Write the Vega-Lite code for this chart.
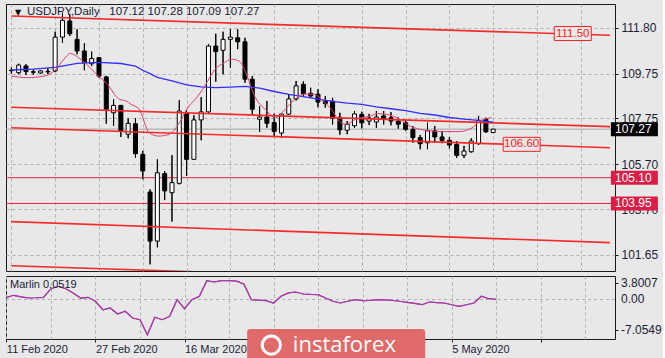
{
  "$schema": "https://vega.github.io/schema/vega-lite/v6.json",
  "background": "#e8e8e8",
  "padding": {"left": 3, "top": 3, "right": 0, "bottom": 0},
  "spacing": 3,
  "config": {
    "view": {"stroke": "#1a1a1a", "strokeWidth": 1, "fill": "#e8e8e8"},
    "axis": {"domain": false, "labelFont": "Liberation Sans", "labelColor": "#1c1c38", "tickColor": "#1a1a1a", "gridColor": "#b0b0b0", "gridDash": [3, 3], "gridWidth": 1}
  },
  "datasets": {
    "candles": [
      {"i":0,"o":109.88,"h":110.03,"l":109.74,"c":109.90},
      {"i":1,"o":109.79,"h":110.19,"l":109.72,"c":110.13},
      {"i":2,"o":110.09,"h":110.17,"l":109.69,"c":109.84},
      {"i":3,"o":109.83,"h":109.94,"l":109.70,"c":109.81},
      {"i":4,"o":109.78,"h":109.91,"l":109.73,"c":109.87},
      {"i":5,"o":109.83,"h":109.98,"l":109.72,"c":109.85},
      {"i":6,"o":109.87,"h":111.62,"l":109.82,"c":111.38},
      {"i":7,"o":111.38,"h":112.47,"l":111.13,"c":112.13},
      {"i":8,"o":112.10,"h":112.41,"l":111.43,"c":111.53},
      {"i":9,"o":111.28,"h":111.73,"l":110.61,"c":110.76},
      {"i":10,"o":110.76,"h":111.10,"l":109.90,"c":110.24},
      {"i":11,"o":110.19,"h":110.73,"l":110.09,"c":110.42},
      {"i":12,"o":110.46,"h":110.49,"l":109.56,"c":109.64},
      {"i":13,"o":109.60,"h":109.65,"l":107.51,"c":108.16},
      {"i":14,"o":108.00,"h":108.60,"l":107.41,"c":108.33},
      {"i":15,"o":108.33,"h":108.35,"l":106.92,"c":107.19},
      {"i":16,"o":107.04,"h":107.75,"l":106.86,"c":107.53},
      {"i":17,"o":107.51,"h":107.75,"l":105.99,"c":106.17},
      {"i":18,"o":106.14,"h":106.30,"l":105.03,"c":105.40},
      {"i":19,"o":104.46,"h":104.58,"l":101.23,"c":102.27},
      {"i":20,"o":102.27,"h":105.92,"l":101.99,"c":105.32},
      {"i":21,"o":105.28,"h":105.40,"l":104.10,"c":104.51},
      {"i":22,"o":104.43,"h":106.11,"l":103.14,"c":104.88},
      {"i":23,"o":104.85,"h":108.56,"l":104.80,"c":108.08},
      {"i":24,"o":107.98,"h":108.10,"l":105.18,"c":105.92},
      {"i":25,"o":105.92,"h":107.89,"l":105.90,"c":107.68},
      {"i":26,"o":107.68,"h":108.70,"l":106.77,"c":108.04},
      {"i":27,"o":108.04,"h":111.06,"l":108.00,"c":110.98},
      {"i":28,"o":110.98,"h":111.53,"l":109.39,"c":110.73},
      {"i":29,"o":110.79,"h":111.62,"l":109.72,"c":111.28},
      {"i":30,"o":111.28,"h":111.73,"l":110.01,"c":111.38},
      {"i":31,"o":111.35,"h":111.73,"l":110.84,"c":111.17},
      {"i":32,"o":111.17,"h":111.35,"l":109.34,"c":109.50},
      {"i":33,"o":109.50,"h":109.64,"l":107.93,"c":108.16},
      {"i":34,"o":107.71,"h":108.30,"l":107.14,"c":107.81},
      {"i":35,"o":107.81,"h":108.53,"l":107.33,"c":107.53},
      {"i":36,"o":107.56,"h":107.96,"l":106.96,"c":107.17},
      {"i":37,"o":107.10,"h":107.96,"l":106.87,"c":107.94},
      {"i":38,"o":107.94,"h":108.83,"l":107.90,"c":108.62},
      {"i":39,"o":108.62,"h":109.42,"l":108.55,"c":109.20},
      {"i":40,"o":109.27,"h":109.40,"l":108.75,"c":108.86},
      {"i":41,"o":108.87,"h":109.12,"l":108.68,"c":108.75},
      {"i":42,"o":108.83,"h":109.05,"l":108.25,"c":108.48},
      {"i":43,"o":108.52,"h":108.75,"l":108.23,"c":108.41},
      {"i":44,"o":108.52,"h":108.67,"l":107.48,"c":107.75},
      {"i":45,"o":107.80,"h":108.00,"l":107.02,"c":107.24},
      {"i":46,"o":107.22,"h":107.63,"l":107.04,"c":107.49},
      {"i":47,"o":107.42,"h":108.08,"l":107.33,"c":107.95},
      {"i":48,"o":107.93,"h":108.05,"l":107.30,"c":107.55},
      {"i":49,"o":107.63,"h":107.95,"l":107.45,"c":107.77},
      {"i":50,"o":107.59,"h":108.08,"l":107.33,"c":107.81},
      {"i":51,"o":107.86,"h":108.08,"l":107.48,"c":107.71},
      {"i":52,"o":107.78,"h":108.03,"l":107.44,"c":107.63},
      {"i":53,"o":107.63,"h":107.79,"l":107.29,"c":107.49},
      {"i":54,"o":107.56,"h":107.66,"l":107.19,"c":107.26},
      {"i":55,"o":107.26,"h":107.41,"l":106.66,"c":106.89},
      {"i":56,"o":106.89,"h":107.01,"l":106.37,"c":106.62},
      {"i":57,"o":106.66,"h":107.56,"l":106.37,"c":107.19},
      {"i":58,"o":107.19,"h":107.41,"l":106.67,"c":106.92},
      {"i":59,"o":106.92,"h":107.19,"l":106.64,"c":106.77},
      {"i":60,"o":106.77,"h":106.92,"l":106.41,"c":106.56},
      {"i":61,"o":106.59,"h":106.74,"l":105.99,"c":106.10},
      {"i":62,"o":106.10,"h":106.52,"l":105.98,"c":106.29},
      {"i":63,"o":106.26,"h":106.86,"l":106.22,"c":106.74},
      {"i":64,"o":106.62,"h":107.86,"l":106.56,"c":107.66},
      {"i":65,"o":107.71,"h":107.78,"l":107.11,"c":107.15},
      {"i":66,"o":107.12,"h":107.28,"l":107.09,"c":107.27}
    ],
    "slow": [
      {"i":0,"p":109.91},{"i":3,"p":109.95},{"i":6,"p":110.03},{"i":9,"p":110.21},{"i":12,"p":110.25},
      {"i":15,"p":110.20},{"i":17,"p":110.08},{"i":18,"p":109.90},{"i":19,"p":109.75},{"i":20,"p":109.58},
      {"i":22,"p":109.42},{"i":24,"p":109.25},{"i":26,"p":109.16},{"i":28,"p":109.12},{"i":30,"p":109.15},
      {"i":32,"p":109.18},{"i":34,"p":109.10},{"i":36,"p":108.95},{"i":38,"p":108.82},{"i":40,"p":108.72},
      {"i":42,"p":108.61},{"i":44,"p":108.51},{"i":46,"p":108.43},{"i":48,"p":108.38},{"i":50,"p":108.26},
      {"i":52,"p":108.18},{"i":54,"p":108.10},{"i":56,"p":107.97},{"i":58,"p":107.90},{"i":60,"p":107.79},
      {"i":62,"p":107.72},{"i":64,"p":107.66},{"i":66,"p":107.58}
    ],
    "fast": [
      {"i":0,"p":109.64},{"i":2.2,"p":109.57},{"i":4.5,"p":109.64},{"i":6.1,"p":109.94},{"i":7.2,"p":110.39},
      {"i":8.1,"p":110.65},{"i":9.2,"p":110.46},{"i":10.3,"p":110.17},{"i":11.9,"p":109.64},{"i":13.0,"p":109.33},
      {"i":14.8,"p":108.60},{"i":15.7,"p":108.53},{"i":16.4,"p":108.38},{"i":17.5,"p":108.16},{"i":18.9,"p":107.10},
      {"i":20.2,"p":106.96},{"i":21.6,"p":107.04},{"i":22.9,"p":107.49},{"i":24.3,"p":108.30},{"i":25.2,"p":108.60},
      {"i":26.5,"p":109.20},{"i":27.9,"p":109.94},{"i":29.2,"p":110.24},{"i":30.1,"p":110.39},{"i":31.2,"p":110.31},
      {"i":32.3,"p":109.64},{"i":33.2,"p":108.83},{"i":35.0,"p":108.08},{"i":36.2,"p":107.78},{"i":37.3,"p":108.08},
      {"i":38.6,"p":108.53},{"i":40.0,"p":108.83},{"i":41.3,"p":108.83},{"i":42.7,"p":108.53},{"i":44.0,"p":108.08},
      {"i":44.9,"p":107.63},{"i":45.8,"p":107.49},{"i":47.2,"p":107.71},{"i":49.2,"p":107.86},{"i":50.1,"p":107.96},
      {"i":51.4,"p":107.93},{"i":53.2,"p":107.71},{"i":54.6,"p":107.41},{"i":56.8,"p":107.22},{"i":59.1,"p":107.16},
      {"i":61.3,"p":107.16},{"i":63.1,"p":107.33},{"i":64.2,"p":107.63},{"i":65.8,"p":107.78}
    ],
    "trend": [
      {"id":"A","i":0,"p":112.32},{"id":"A","i":82,"p":111.46},
      {"id":"B","i":0,"p":108.25},{"id":"B","i":82,"p":107.38},
      {"id":"C","i":0,"p":107.33},{"id":"C","i":82,"p":106.44},
      {"id":"D","i":0,"p":103.14},{"id":"D","i":82,"p":102.20},
      {"id":"E","i":0,"p":101.17},{"id":"E","i":82,"p":100.28}
    ],
    "levels": [{"p":105.10},{"p":103.95}],
    "bid": [{"p":107.27}],
    "tlabels": [{"i":76.9,"p":111.54,"t":"111.50"},{"i":69.9,"p":106.59,"t":"106.60"}],
    "badges": [{"p":107.27,"t":"107.27","k":"bid"},{"p":105.10,"t":"105.10","k":"level"},{"p":103.95,"t":"103.95","k":"level"}],
    "mlabels": [{"v":3.8007,"t":"3.8007"},{"v":0,"t":"0.00"},{"v":-7.0549,"t":"-7.0549"}],
    "marlin": [
      {"i":0,"v":0.50},{"i":1,"v":0.96},{"i":2,"v":0.60},{"i":3,"v":0.34},{"i":4,"v":0.40},{"i":5,"v":0.50},
      {"i":6,"v":2.46},{"i":7,"v":3.01},{"i":8,"v":2.46},{"i":9,"v":1.48},{"i":10,"v":0.34},{"i":11,"v":0.50},
      {"i":12,"v":-0.41},{"i":13,"v":-2.33},{"i":14,"v":-1.94},{"i":15,"v":-3.31},{"i":16,"v":-2.69},{"i":17,"v":-4.22},
      {"i":18,"v":-4.61},{"i":19,"v":-8.03},{"i":20,"v":-4.06},{"i":21,"v":-4.61},{"i":22,"v":-3.83},{"i":23,"v":-0.05},
      {"i":24,"v":-2.10},{"i":25,"v":-0.05},{"i":26,"v":0.73},{"i":27,"v":4.29},{"i":28,"v":3.99},{"i":29,"v":4.29},
      {"i":30,"v":4.29},{"i":31,"v":4.20},{"i":32,"v":3.53},{"i":33,"v":-0.05},{"i":34,"v":-0.15},{"i":35,"v":-0.27},
      {"i":36,"v":-0.80},{"i":37,"v":0.73},{"i":38,"v":1.50},{"i":39,"v":1.71},{"i":40,"v":1.25},{"i":41,"v":1.15},
      {"i":42,"v":1.09},{"i":43,"v":0.34},{"i":44,"v":-0.41},{"i":45,"v":-0.80},{"i":46,"v":-0.40},{"i":47,"v":-0.05},
      {"i":48,"v":-0.27},{"i":49,"v":-0.20},{"i":50,"v":-0.05},{"i":51,"v":-0.10},{"i":52,"v":-0.18},{"i":53,"v":-0.40},
      {"i":54,"v":-0.64},{"i":55,"v":-0.90},{"i":56,"v":-1.19},{"i":57,"v":-0.57},{"i":58,"v":-0.70},{"i":59,"v":-0.80},
      {"i":60,"v":-1.20},{"i":61,"v":-1.55},{"i":62,"v":-1.20},{"i":63,"v":-0.80},{"i":64,"v":0.73},{"i":65,"v":0.18},
      {"i":66,"v":0.05}
    ]
  },
  "vconcat": [
    {
      "width": 609,
      "height": 267,
      "layer": [
        {
          "data": {"name": "candles"},
          "mark": {"type": "rule", "color": "#000000", "strokeWidth": 1},
          "encoding": {
            "x": {"field": "i", "type": "quantitative", "title": null,
                  "scale": {"domain": [-0.05, 82], "nice": false, "zero": false},
                  "axis": {"values": [0,6,12,18,24,30,36,42,48,54,60,66,72,78], "grid": true, "labels": false, "ticks": false, "domain": false, "title": null}},
            "y": {"field": "l", "type": "quantitative", "title": null,
                  "scale": {"domain": [100.934, 112.858], "nice": false, "zero": false},
                  "axis": {"orient": "right", "values": [111.8, 109.75, 107.75, 105.7, 103.7, 101.65], "format": ".2f", "grid": true, "tickSize": 3, "labelPadding": 3, "labelFontSize": 12, "labelOverlap": false, "title": null}},
            "y2": {"field": "h"}
          }
        },
        {
          "data": {"name": "bid"},
          "mark": {"type": "rule", "color": "#a4a4a4", "strokeWidth": 1},
          "encoding": {"y": {"field": "p", "type": "quantitative", "title": null}}
        },
        {
          "data": {"name": "levels"},
          "mark": {"type": "rule", "color": "#e3204e", "strokeWidth": 1},
          "encoding": {"y": {"field": "p", "type": "quantitative", "title": null}}
        },
        {
          "data": {"name": "candles"},
          "mark": {"type": "rule", "color": "#000000", "strokeWidth": 1},
          "encoding": {
            "x": {"field": "i", "type": "quantitative", "title": null},
            "y": {"field": "l", "type": "quantitative", "title": null},
            "y2": {"field": "h"}
          }
        },
        {
          "data": {"name": "candles"},
          "mark": {"type": "bar", "width": 4, "stroke": "#000000", "strokeWidth": 1},
          "encoding": {
            "x": {"field": "i", "type": "quantitative", "title": null},
            "y": {"field": "o", "type": "quantitative", "title": null},
            "y2": {"field": "c"},
            "fill": {"condition": {"test": "datum.c >= datum.o", "value": "#ffffff"}, "value": "#000000"}
          }
        },
        {
          "data": {"name": "trend"},
          "mark": {"type": "line", "color": "#f52a2a", "strokeWidth": 1.6, "clip": true},
          "encoding": {
            "x": {"field": "i", "type": "quantitative", "title": null},
            "y": {"field": "p", "type": "quantitative", "title": null},
            "detail": {"field": "id"}
          }
        },
        {
          "data": {"name": "slow"},
          "mark": {"type": "line", "color": "#2f2fff", "strokeWidth": 1.3},
          "encoding": {
            "x": {"field": "i", "type": "quantitative", "title": null},
            "y": {"field": "p", "type": "quantitative", "title": null}
          }
        },
        {
          "data": {"name": "fast"},
          "mark": {"type": "line", "color": "#e2406c", "strokeWidth": 1, "interpolate": "monotone"},
          "encoding": {
            "x": {"field": "i", "type": "quantitative", "title": null},
            "y": {"field": "p", "type": "quantitative", "title": null}
          }
        },
        {
          "data": {"name": "tlabels"},
          "mark": {"type": "tick", "orient": "horizontal", "size": 37, "thickness": 14, "fill": "#e8e8e8", "fillOpacity": 1, "stroke": "#ff2424", "strokeWidth": 1, "opacity": 1},
          "encoding": {
            "x": {"field": "i", "type": "quantitative", "title": null},
            "y": {"field": "p", "type": "quantitative", "title": null}
          }
        },
        {
          "data": {"name": "tlabels"},
          "mark": {"type": "text", "font": "Liberation Sans", "fontSize": 11.5, "color": "#ff2020", "align": "center", "baseline": "middle"},
          "encoding": {
            "x": {"field": "i", "type": "quantitative", "title": null},
            "y": {"field": "p", "type": "quantitative", "title": null},
            "text": {"field": "t"}
          }
        },
        {
          "data": {"name": "badges"},
          "mark": {"type": "tick", "orient": "horizontal", "size": 47, "thickness": 14, "opacity": 1, "clip": false},
          "encoding": {
            "x": {"datum": 85.34, "title": null},
            "y": {"field": "p", "type": "quantitative", "title": null},
            "color": {"condition": {"test": "datum.k == 'bid'", "value": "#000000"}, "value": "#dc1e46"}
          }
        },
        {
          "data": {"name": "badges"},
          "mark": {"type": "text", "font": "Liberation Sans", "fontSize": 12, "color": "#ffffff", "align": "left", "baseline": "middle", "dx": 5},
          "encoding": {
            "x": {"datum": 82, "title": null},
            "y": {"field": "p", "type": "quantitative", "title": null},
            "text": {"field": "t"}
          }
        },
        {
          "data": {"values": [{}]},
          "mark": {"type": "text", "text": "▼", "font": "DejaVu Sans", "fontSize": 8, "color": "#000000", "align": "left", "baseline": "top", "dx": 4, "dy": 5},
          "encoding": {
            "x": {"datum": -0.05, "title": null},
            "y": {"datum": 112.858, "title": null}
          }
        },
        {
          "data": {"values": [{}]},
          "mark": {"type": "text", "text": "USDJPY,Daily\u00a0\u00a0\u00a0107.12 107.28 107.09 107.27", "font": "Liberation Sans", "fontSize": 11.5, "color": "#1c1c38", "align": "left", "baseline": "top", "dx": 16, "dy": 2},
          "encoding": {
            "x": {"datum": -0.05, "title": null},
            "y": {"datum": 112.858, "title": null}
          }
        }
      ]
    },
    {
      "width": 609,
      "height": 63,
      "layer": [
        {
          "data": {"name": "marlin"},
          "mark": {"type": "line", "color": "#a83ca8", "strokeWidth": 1.2},
          "encoding": {
            "x": {"field": "i", "type": "quantitative", "title": null,
                  "scale": {"domain": [-0.05, 82], "nice": false, "zero": false},
                  "axis": {"values": [0,6,12,18,24,30,36,42,48,54,60,66,72,78], "grid": true, "title": null, "domain": false,
                           "labelExpr": "datum.value == 0 ? '11 Feb 2020' : datum.value == 12 ? '27 Feb 2020' : datum.value == 24 ? '16 Mar 2020' : datum.value == 60 ? '5 May 2020' : ''",
                           "labelAlign": "left", "labelFontSize": 11, "labelPadding": 1, "tickSize": 3, "labelOverlap": false, "labelFlush": false,
                           "tickColor": {"condition": {"test": "datum.value % 12 == 0", "value": "#1a1a1a"}, "value": "transparent"}}},
            "y": {"field": "v", "type": "quantitative", "title": null,
                  "scale": {"domain": [-9.01, 5.36], "nice": false, "zero": false},
                  "axis": {"orient": "right", "values": [3.8007, 0, -7.0549], "grid": false, "labels": false, "tickSize": 3, "title": null}}
          }
        },
        {
          "data": {"values": [{}]},
          "mark": {"type": "rule", "color": "#b0b0b0", "strokeDash": [3, 3], "strokeWidth": 1},
          "encoding": {"y": {"datum": 0, "title": null}}
        },
        {
          "data": {"name": "marlin"},
          "mark": {"type": "line", "color": "#a83ca8", "strokeWidth": 1.2},
          "encoding": {
            "x": {"field": "i", "type": "quantitative", "title": null},
            "y": {"field": "v", "type": "quantitative", "title": null}
          }
        },
        {
          "data": {"name": "mlabels"},
          "mark": {"type": "text", "font": "Liberation Sans", "fontSize": 12, "color": "#1c1c38", "align": "left", "baseline": "middle", "dx": 6, "clip": false},
          "encoding": {
            "x": {"datum": 82, "title": null},
            "y": {"field": "v", "type": "quantitative", "title": null},
            "text": {"field": "t"}
          }
        },
        {
          "data": {"values": [{}]},
          "mark": {"type": "text", "text": "Marlin 0.0519", "font": "Liberation Sans", "fontSize": 11, "color": "#1c1c38", "align": "left", "baseline": "top", "dx": 4, "dy": 3},
          "encoding": {
            "x": {"datum": -0.05, "title": null},
            "y": {"datum": 5.36, "title": null}
          }
        },
        {
          "data": {"values": [{}]},
          "mark": {"type": "rect", "color": "#e06a6a", "opacity": 1, "cornerRadius": 3, "clip": false},
          "encoding": {
            "x": {"datum": 32.44, "title": null},
            "x2": {"datum": 56.43},
            "y": {"datum": -6.73, "title": null},
            "y2": {"datum": -14.6}
          }
        },
        {
          "data": {"values": [{}]},
          "mark": {"type": "point", "shape": "circle", "filled": false, "stroke": "#ffffff", "strokeWidth": 3, "size": 330, "opacity": 1, "clip": false},
          "encoding": {
            "x": {"datum": 35.7, "title": null},
            "y": {"datum": -10.4, "title": null}
          }
        },
        {
          "data": {"values": [{}]},
          "mark": {"type": "text", "text": "instaforex", "font": "Open Sans", "fontSize": 22, "color": "#ffffff", "align": "left", "baseline": "middle", "clip": false},
          "encoding": {
            "x": {"datum": 38.6, "title": null},
            "y": {"datum": -10.4, "title": null}
          }
        }
      ]
    }
  ]
}
